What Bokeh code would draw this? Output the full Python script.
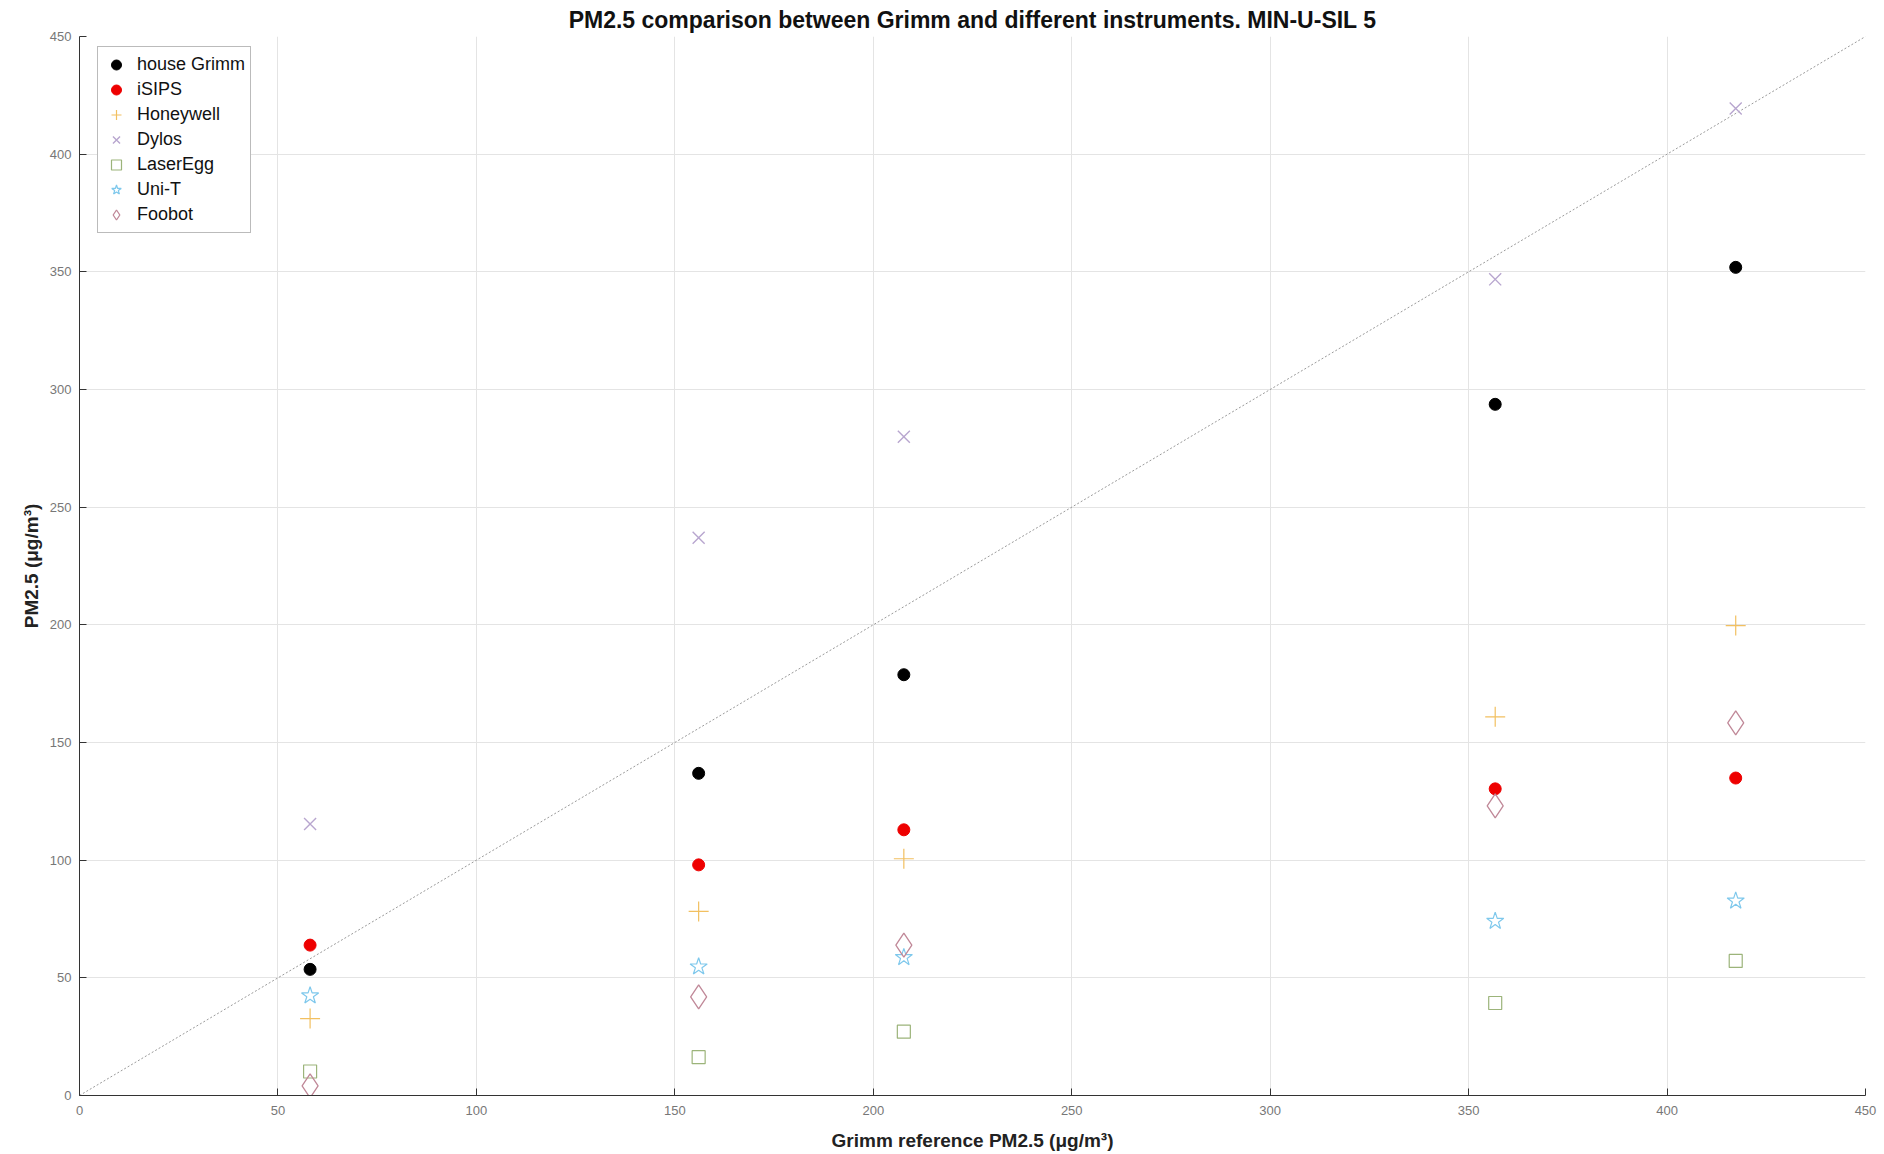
from bokeh.plotting import figure
from bokeh.models import Range1d, Legend, LegendItem, FixedTicker
from bokeh.embed import file_html
from bokeh.resources import INLINE

# Data
grimm_ref = [58.1, 156.0, 207.7, 356.7, 417.3]
house_grimm = [53.6, 136.9, 178.8, 293.7, 351.9]
isips = [63.9, 98.0, 112.9, 130.3, 134.9]
honeywell = [32.7, 78.2, 100.6, 160.9, 199.7]
dylos = [115.4, 237.0, 279.9, 346.8, 419.4]
laseregg = [10.2, 16.3, 27.1, 39.3, 57.2]
unit = [42.4, 54.7, 58.7, 74.1, 82.7]
foobot = [4.1, 41.9, 63.9, 123.1, 158.3]
identity_line = [0, 450]
ticks = [0, 50, 100, 150, 200, 250, 300, 350, 400, 450]

FONT = "Liberation Sans"

p = figure(width=1884, height=1154, output_backend="svg", toolbar_location=None,
           x_range=Range1d(0, 450), y_range=Range1d(0, 450),
           min_border_left=79, min_border_right=19, min_border_top=36, min_border_bottom=59)
p.outline_line_color = None
p.background_fill_color = "white"
p.border_fill_color = "white"

p.title.text = "PM2.5 comparison between Grimm and different instruments. MIN-U-SIL 5"
p.title.align = "center"
p.title.text_font = FONT
p.title.text_font_size = "23px"
p.title.text_font_style = "bold"
p.title.text_color = "#111111"
p.title.standoff = 8

for ax in (p.xaxis[0], p.yaxis[0]):
    ax.ticker = FixedTicker(ticks=ticks)
    ax.major_tick_in = 7
    ax.major_tick_out = 0
    ax.minor_tick_line_color = None
    ax.axis_line_color = "#333333"
    ax.major_tick_line_color = "#333333"
    ax.major_label_text_font = FONT
    ax.major_label_text_font_size = "13px"
    ax.major_label_text_color = "#777777"
    ax.axis_label_text_font = FONT
    ax.axis_label_text_font_size = "19px"
    ax.axis_label_text_font_style = "bold"
    ax.axis_label_text_color = "#222222"

p.xaxis.axis_label = "Grimm reference PM2.5 (μg/m³)"
p.yaxis.axis_label = "PM2.5 (μg/m³)"
p.xaxis.major_label_standoff = 10
p.yaxis.major_label_standoff = 8
p.xaxis.axis_label_standoff = 12
p.yaxis.axis_label_standoff = 5

p.xgrid.ticker = FixedTicker(ticks=ticks)
p.ygrid.ticker = FixedTicker(ticks=ticks)
p.grid.grid_line_color = "#e4e4e4"
p.grid.grid_line_width = 1

p.line(identity_line, identity_line, line_color="#9a9a9a", line_dash="2 2", line_width=1)

r1 = p.scatter(grimm_ref, house_grimm, marker="circle", size=12, fill_color="black", line_color="black")
r2 = p.scatter(grimm_ref, isips, marker="circle", size=12, fill_color="#ee0000", line_color="#ee0000")
r3 = p.scatter(grimm_ref, honeywell, marker="cross", size=20, line_color="#f2c060", line_width=1.2)
r4 = p.scatter(grimm_ref, dylos, marker="x", size=17, line_color="#b8a6cf", line_width=1.4)
r5 = p.scatter(grimm_ref, laseregg, marker="square", size=13, fill_color=None, line_color="#9cb47a", line_width=1.2)
r6 = p.scatter(grimm_ref, unit, marker="star", size=18, fill_color=None, line_color="#7ec8ec", line_width=1.2)
r7 = p.scatter(grimm_ref, foobot, marker="diamond", size=24, fill_color=None, line_color="#c08898", line_width=1.3)

legend = Legend(items=[
    LegendItem(label="house Grimm", renderers=[r1]),
    LegendItem(label="iSIPS", renderers=[r2]),
    LegendItem(label="Honeywell", renderers=[r3]),
    LegendItem(label="Dylos", renderers=[r4]),
    LegendItem(label="LaserEgg", renderers=[r5]),
    LegendItem(label="Uni-T", renderers=[r6]),
    LegendItem(label="Foobot", renderers=[r7]),
], location=(18, 862))
legend.label_text_font = FONT
legend.label_text_font_size = "18px"
legend.label_text_color = "#111111"
legend.label_height = 25
legend.glyph_height = 25
legend.glyph_width = 26
legend.spacing = 0
legend.padding = 5
legend.margin = 0
legend.border_line_color = "#777777"
legend.border_line_width = 1
legend.background_fill_color = "white"
legend.background_fill_alpha = 1
legend.label_standoff = 8
p.add_layout(legend, "center")

open("out.html", "w").write(file_html(p, INLINE))
